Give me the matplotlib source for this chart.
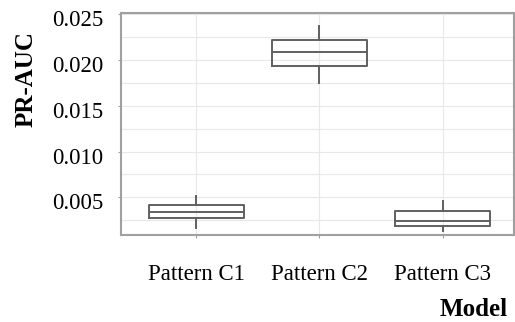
import matplotlib.pyplot as plt
import matplotlib.transforms as mtransforms

models = ["Pattern C1", "Pattern C2", "Pattern C3"]
# box stats
whislo = [0.00169, 0.01746, 0.00137]
q1 = [0.00276, 0.01933, 0.00194]
med = [0.00340, 0.02082, 0.00247]
q3 = [0.00415, 0.02217, 0.00354]
whishi = [0.00512, 0.02367, 0.00458]

plt.rcParams["font.family"] = ["Liberation Serif", "DejaVu Serif"]

fig = plt.figure(figsize=(5.15, 3.22), dpi=100)
ax = fig.add_axes([0.235, 0.27, 0.763, 0.69])

stats = []
for i, m in enumerate(models):
    stats.append(dict(label=m, whislo=whislo[i], q1=q1[i], med=med[i],
                      q3=q3[i], whishi=whishi[i], fliers=[]))

line = dict(color="#606060", linewidth=1.4)
ax.bxp(stats, positions=[1, 2, 3], widths=0.77, showcaps=False,
       boxprops=line, medianprops=line, whiskerprops=line)

ax.set_xlim(0.39, 3.58)
ax.set_ylim(0.0009, 0.0251)
ax.set_yticks([0.005, 0.010, 0.015, 0.020, 0.025])
ax.set_yticklabels(["0.005", "0.010", "0.015", "0.020", "0.025"])
ax.set_yticks([0.0025, 0.0075, 0.0125, 0.0175, 0.0225], minor=True)

ax.grid(True, which="both", color="#e8e8e8", linewidth=0.8)
ax.set_axisbelow(True)
for s in ax.spines.values():
    s.set_color("#a0a0a0")
    s.set_linewidth(1.5)

ax.tick_params(axis="both", which="major", labelsize=16.5, color="#a0a0a0",
               length=2, direction="out")
ax.tick_params(axis="y", which="minor", length=0)
ax.tick_params(axis="y", pad=11)
ax.tick_params(axis="x", pad=19)

# y tick labels sit a little below their ticks in the reference
shift = mtransforms.ScaledTranslation(0, -4 / 100, fig.dpi_scale_trans)
for lab in ax.get_yticklabels():
    lab.set_transform(lab.get_transform() + shift)

fig.text(0.05, 0.755, "PR-AUC", rotation=90, fontsize=18, fontweight="bold",
         ha="center", va="center")
fig.text(0.985, 0.004, "Model", fontsize=18, fontweight="bold",
         ha="right", va="bottom")

fig.savefig("out.png", dpi=100)
